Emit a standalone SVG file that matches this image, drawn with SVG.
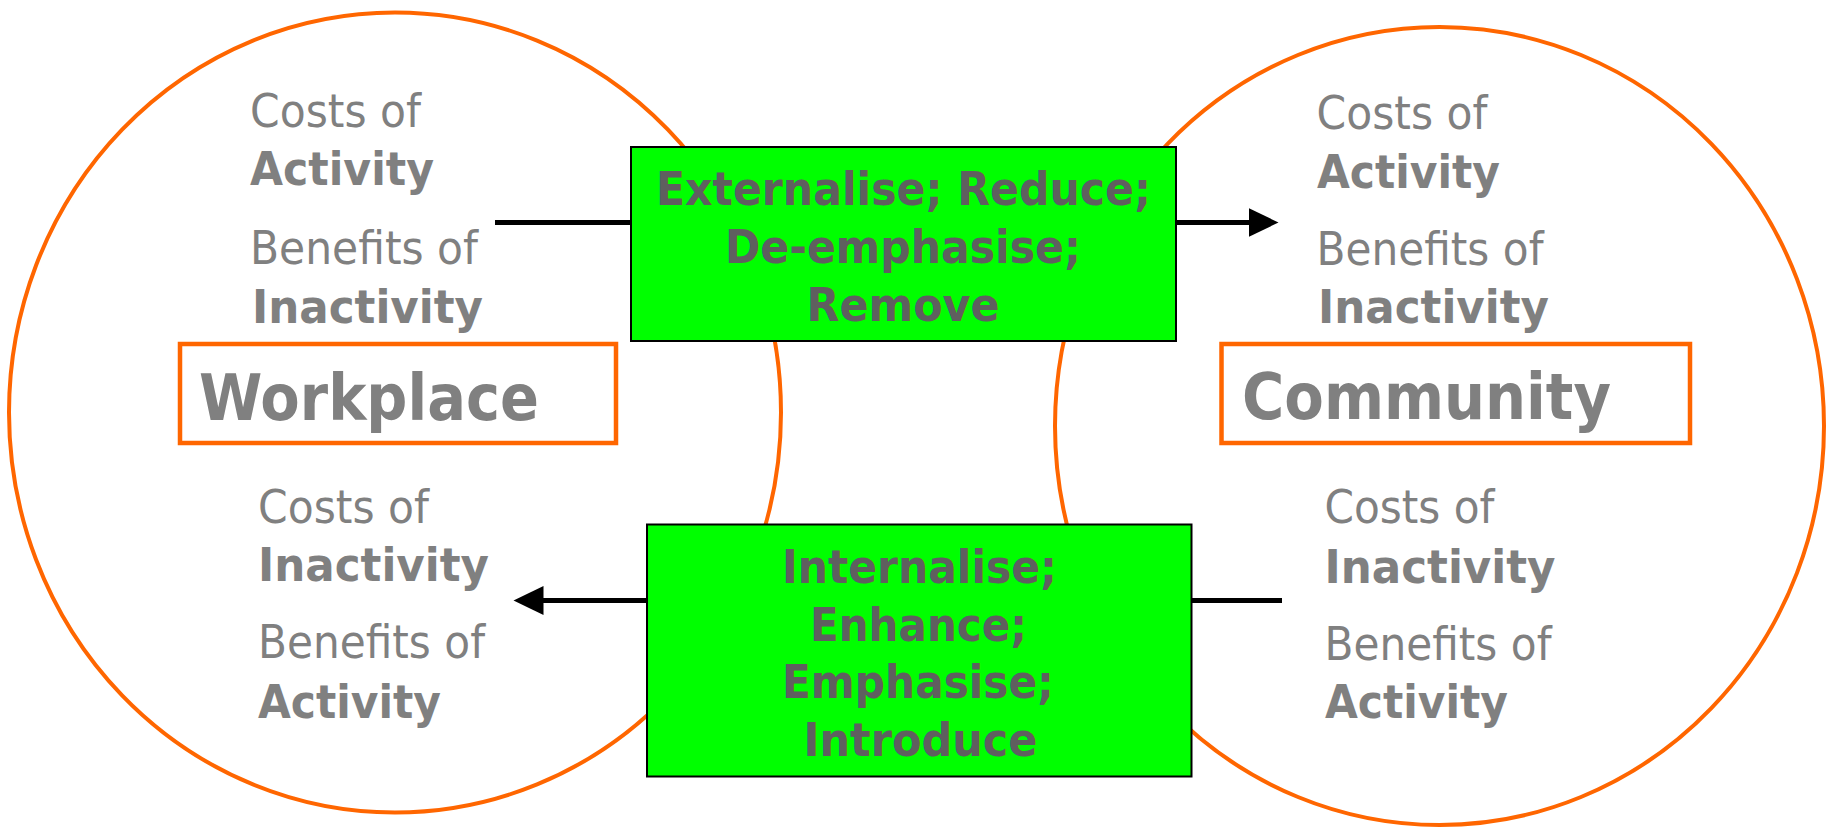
<svg xmlns="http://www.w3.org/2000/svg" width="1826" height="827" viewBox="0 0 1826 827">
  <style>
    .zone { fill: none; stroke: #FF6600; stroke-width: 4; }
    .label-box { fill: #FFFFFF; stroke: #FF6600; stroke-width: 4.5; }
    .action { fill: #00FF00; stroke: #000000; stroke-width: 2; }
    .txt { font-family: "DejaVu Sans", Verdana, sans-serif; font-size: 46px; fill: #808080; }
    .b { font-weight: bold; }
    .title { font-family: "DejaVu Sans", Verdana, sans-serif; font-size: 64px; font-weight: bold; fill: #808080; }
    .act-txt { font-family: "DejaVu Sans", Verdana, sans-serif; font-size: 46px; font-weight: bold; fill: #5F5F5F; text-anchor: middle; }
    .conn { fill: none; stroke: #000000; stroke-width: 5; }
  </style>
  <defs>
    <marker id="head" markerUnits="userSpaceOnUse" markerWidth="31" markerHeight="29" viewBox="0 0 31 29" refX="1.5" refY="14.5" orient="auto">
      <path d="M0,0 L30,14.5 L0,29 Z" fill="#000000"/>
    </marker>
  </defs>

  <rect width="1826" height="827" fill="#FFFFFF"/>

  <!-- Workplace zone -->
  <g id="workplace">
    <ellipse class="zone" cx="395" cy="412.5" rx="386" ry="400"/>
    <rect class="label-box" x="180" y="344" width="436" height="99"/>
    <text class="title" x="199" y="420" textLength="340" lengthAdjust="spacingAndGlyphs">Workplace</text>
    <text class="txt" x="250" y="127" textLength="171" lengthAdjust="spacingAndGlyphs">Costs of</text>
    <text class="txt b" x="250" y="185" textLength="184" lengthAdjust="spacingAndGlyphs">Activity</text>
    <text class="txt" x="250" y="264" textLength="228" lengthAdjust="spacingAndGlyphs">Benefits of</text>
    <text class="txt b" x="252" y="322.5" textLength="231" lengthAdjust="spacingAndGlyphs">Inactivity</text>
    <text class="txt" x="258" y="522.7" textLength="171" lengthAdjust="spacingAndGlyphs">Costs of</text>
    <text class="txt b" x="258" y="581" textLength="231" lengthAdjust="spacingAndGlyphs">Inactivity</text>
    <text class="txt" x="258" y="658.3" textLength="227" lengthAdjust="spacingAndGlyphs">Benefits of</text>
    <text class="txt b" x="258" y="717.7" textLength="183" lengthAdjust="spacingAndGlyphs">Activity</text>
  </g>

  <!-- Community zone -->
  <g id="community">
    <ellipse class="zone" cx="1439.5" cy="426" rx="384.5" ry="399"/>
    <rect class="label-box" x="1221.5" y="344" width="468.5" height="99"/>
    <text class="title" x="1242" y="419" textLength="369" lengthAdjust="spacingAndGlyphs">Community</text>
    <text class="txt" x="1316.5" y="129" textLength="171" lengthAdjust="spacingAndGlyphs">Costs of</text>
    <text class="txt b" x="1317" y="187.7" textLength="183" lengthAdjust="spacingAndGlyphs">Activity</text>
    <text class="txt" x="1316.5" y="265" textLength="227" lengthAdjust="spacingAndGlyphs">Benefits of</text>
    <text class="txt b" x="1318" y="323.3" textLength="231" lengthAdjust="spacingAndGlyphs">Inactivity</text>
    <text class="txt" x="1324.5" y="523.3" textLength="170" lengthAdjust="spacingAndGlyphs">Costs of</text>
    <text class="txt b" x="1324.5" y="582.7" textLength="231" lengthAdjust="spacingAndGlyphs">Inactivity</text>
    <text class="txt" x="1324.5" y="660" textLength="227" lengthAdjust="spacingAndGlyphs">Benefits of</text>
    <text class="txt b" x="1325" y="717.7" textLength="183" lengthAdjust="spacingAndGlyphs">Activity</text>
  </g>

  <!-- flows between the two zones -->
  <g id="connectors">
    <line class="conn" x1="495" y1="222.5" x2="1250" y2="222.5" marker-end="url(#head)"/>
    <line class="conn" x1="1282" y1="600.5" x2="542" y2="600.5" marker-end="url(#head)"/>
  </g>

  <!-- workplace to community actions -->
  <g id="outward-actions">
    <rect class="action" x="631" y="147" width="545" height="194"/>
    <text class="act-txt" x="903.5" y="205" textLength="495" lengthAdjust="spacingAndGlyphs">Externalise; Reduce;</text>
    <text class="act-txt" x="903" y="263.3" textLength="356" lengthAdjust="spacingAndGlyphs">De-emphasise;</text>
    <text class="act-txt" x="903" y="320.7" textLength="193" lengthAdjust="spacingAndGlyphs">Remove</text>
  </g>

  <!-- community to workplace actions -->
  <g id="inward-actions">
    <rect class="action" x="647" y="524.5" width="544.5" height="252"/>
    <text class="act-txt" x="919.5" y="582.7" textLength="275" lengthAdjust="spacingAndGlyphs">Internalise;</text>
    <text class="act-txt" x="918.5" y="640.7" textLength="217" lengthAdjust="spacingAndGlyphs">Enhance;</text>
    <text class="act-txt" x="918" y="698.3" textLength="272" lengthAdjust="spacingAndGlyphs">Emphasise;</text>
    <text class="act-txt" x="920.5" y="756" textLength="234" lengthAdjust="spacingAndGlyphs">Introduce</text>
  </g>
</svg>
